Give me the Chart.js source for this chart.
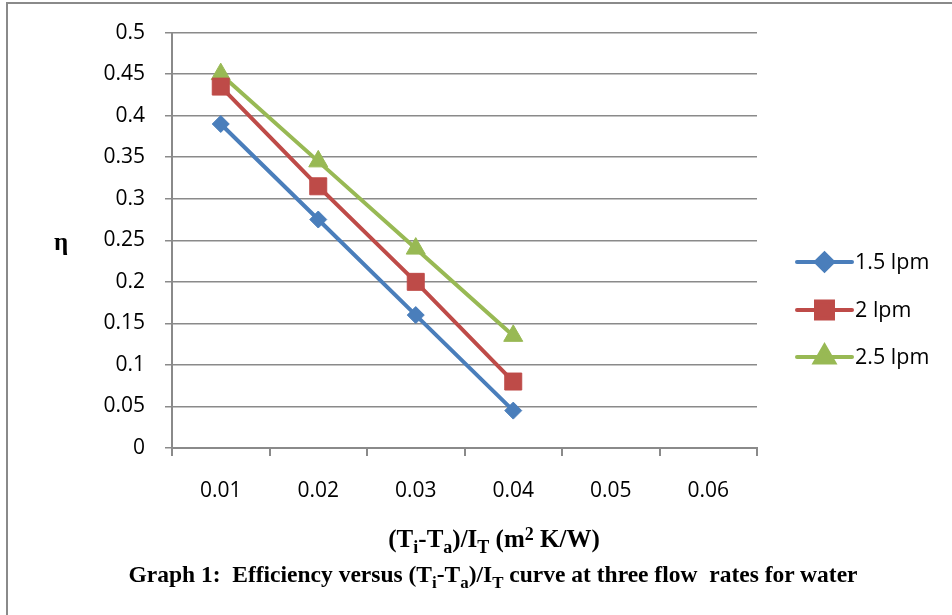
<!DOCTYPE html>
<html>
<head>
<meta charset="utf-8">
<script src="https://cdn.jsdelivr.net/npm/chart.js@4/dist/chart.umd.min.js"></script>
<style>
  html, body { margin: 0; padding: 0; background: #fff; }
  #wrap {
    position: relative; width: 952px; height: 615px; overflow: hidden;
  }
  #frame {
    position: absolute; left: 6px; top: 2px; right: -4px; bottom: -4px;
    border-left: 2px solid #8a8a8a; border-top: 2px solid #8a8a8a;
  }
  canvas { position: absolute; left: 0; top: 0; }
  .lbl {
    position: absolute; font-family: "Liberation Serif", "Times New Roman", serif;
    font-weight: bold; color: #000; white-space: nowrap;
  }
  .lbl sub { font-size: 0.72em; vertical-align: -0.35em; line-height: 0; }
  .lbl sup { font-size: 0.72em; vertical-align: 0.4em; line-height: 0; }
  #ytitle { left: 54px; top: 228px; font-size: 25px; }
  #xtitle { left: 0; width: 988px; text-align: center; top: 525px; font-size: 25px; }
  #caption { left: 0; width: 986px; text-align: center; top: 561px; font-size: 23.5px; }
</style>
</head>
<body>
<div id="wrap">
  <div id="frame"></div>
  <canvas id="chart" width="952" height="615"></canvas>
  <div class="lbl" id="ytitle">η</div>
  <div class="lbl" id="xtitle">(T<sub>i</sub>-T<sub>a</sub>)/I<sub>T</sub> (m<sup>2</sup> K/W)</div>
  <div class="lbl" id="caption">Graph 1:&nbsp; Efficiency versus (T<sub>i</sub>-T<sub>a</sub>)/I<sub>T</sub> curve at three flow&nbsp; rates for water</div>
</div>
<script>
// 数据
const categories = ['0.01', '0.02', '0.03', '0.04', '0.05', '0.06']
const flow15 = [0.39, 0.275, 0.16, 0.045, null, null]
const flow2 = [0.435, 0.315, 0.2, 0.08, null, null]
const flow25 = [0.45, 0.345, 0.24, 0.135, null, null]
const seriesNames = ['1.5 lpm', '2 lpm', '2.5 lpm']

const COLORS = {
  blue: '#4a7ebb',
  red: '#be4b48',
  green: '#98b954',
  grid: '#8a8a8a'
}

const TICK_FONT = { family: '"Open Sans", "Liberation Sans", sans-serif', size: 21 }

// 自定义图例（Excel 风格：线段 + 标记）
const excelLegend = {
  id: 'excelLegend',
  afterDraw(chart) {
    const ctx = chart.ctx
    const x0 = 797, x1 = 852, tx = 855
    const ys = [262, 310, 357]
    chart.data.datasets.forEach((ds, i) => {
      const y = ys[i]
      ctx.save()
      ctx.strokeStyle = ds.borderColor
      ctx.lineWidth = 4
      ctx.lineCap = 'round'
      ctx.beginPath()
      ctx.moveTo(x0, y)
      ctx.lineTo(x1, y)
      ctx.stroke()
      ctx.fillStyle = ds.backgroundColor
      ctx.strokeStyle = ds.borderColor
      Chart.helpers.drawPoint(ctx, {
        pointStyle: ds.pointStyle,
        radius: ds.pointRadius,
        rotation: 0,
        borderWidth: 1
      }, (x0 + x1) / 2, y)
      ctx.fillStyle = '#000'
      ctx.font = '21.5px "Open Sans", "Liberation Sans", sans-serif'
      ctx.textBaseline = 'middle'
      ctx.textAlign = 'left'
      ctx.fillText(ds.label, tx, y + 1)
      ctx.restore()
    })
  }
}

function makeSeries(label, data, color, style, radius) {
  return {
    label,
    data,
    borderColor: color,
    backgroundColor: color,
    borderWidth: 4,
    pointStyle: style,
    pointRadius: radius,
    pointHoverRadius: radius,
    pointBorderWidth: 1,
    tension: 0,
    spanGaps: false
  }
}

new Chart(document.getElementById('chart'), {
  type: 'line',
  data: {
    labels: categories,
    datasets: [
      makeSeries(seriesNames[0], flow15, COLORS.blue, 'rectRot', 8.5),
      makeSeries(seriesNames[1], flow2, COLORS.red, 'rect', 12),
      makeSeries(seriesNames[2], flow25, COLORS.green, 'triangle', 11)
    ]
  },
  options: {
    responsive: false,
    animation: false,
    events: [],
    layout: { padding: { left: 0, top: 32, right: 195, bottom: 0 } },
    plugins: {
      legend: { display: false },
      tooltip: { enabled: false }
    },
    scales: {
      x: {
        type: 'category',
        offset: true,
        grid: {
          offset: true,
          drawOnChartArea: false,
          drawTicks: true,
          tickLength: 8,
          color: COLORS.grid,
          lineWidth: 2
        },
        border: { color: COLORS.grid, width: 2 },
        ticks: { color: '#000', font: TICK_FONT, padding: 22, maxRotation: 0 },
        afterFit(scale) { scale.height = 615 - 448 }
      },
      y: {
        min: 0,
        max: 0.5,
        ticks: {
          stepSize: 0.05,
          color: '#000',
          font: TICK_FONT,
          padding: 20,
          callback: v => String(Math.round(v * 100) / 100)
        },
        grid: {
          color: COLORS.grid,
          lineWidth: 1.5,
          tickLength: 7,
          drawTicks: true
        },
        border: { color: COLORS.grid, width: 2 },
        afterFit(scale) { scale.width = 172 }
      }
    }
  },
  plugins: [excelLegend]
})
</script>
</body>
</html>
